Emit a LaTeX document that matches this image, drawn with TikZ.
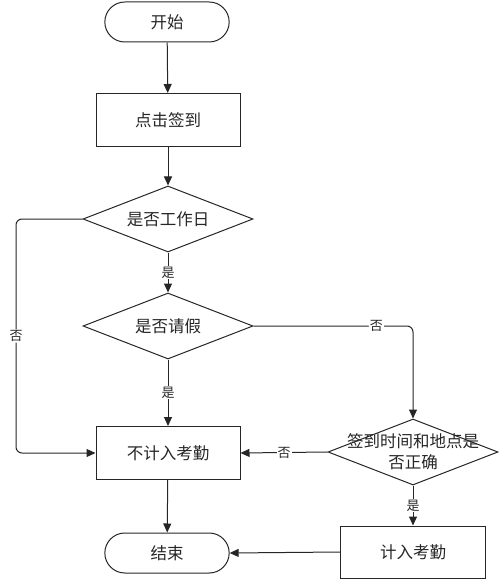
\documentclass[tikz,border=0pt]{standalone}
\usepackage{fontspec}
\setmainfont{Noto Sans CJK SC}
\usetikzlibrary{arrows.meta, shapes.geometric, shapes.misc}

\begin{document}
\begin{tikzpicture}[x=1pt, y=-1pt, line width=1pt, draw=black!85,
    >={Triangle[length=9pt, width=8pt]},
    every node/.style={font=\fontsize{16.5}{21}\selectfont, text=black!85},
    terminal/.style={draw, rounded rectangle, minimum width=131pt, minimum height=40pt},
    process/.style={draw, rectangle, minimum width=144pt, minimum height=53pt},
    decision/.style={draw, diamond, aspect=2.5, inner sep=0pt, minimum width=170pt, minimum height=66pt},
    answer/.style={fill=white, inner sep=1pt, font=\fontsize{13}{14}\selectfont}]
    \useasboundingbox (0,0) rectangle (500,580);

    \node[terminal] (start) at (167,22) {开始};
    \node[process] (sign) at (168,120) {点击签到};
    \node[decision] (workday) at (168,219) {是否工作日};
    \node[decision] (leave) at (168,326) {是否请假};
    \node[process] (noatt) at (168,453) {不计入考勤};
    \node[decision, inner xsep=-35pt, inner ysep=-8pt, align=center] (check) at (413,452) {签到时间和地点是\\否正确};
    \node[process, minimum width=145pt, minimum height=52pt] (att) at (413,552) {计入考勤};
    \node[terminal] (stop) at (167,553) {结束};

    \coordinate (lt) at (16,219);
    \coordinate (lb) at (16,453);
    \coordinate (rt) at (leave.east -| check.north);

    \draw[->] (start) -- (sign);
    \draw[->] (sign) -- (workday);
    \draw[->] (workday) -- node[answer] {是} (leave);
    \draw[->] (leave) -- node[answer] {是} (noatt);
    \draw[->, rounded corners=6pt] (workday.west) -- (lt) -- node[answer] {否} (lb) -- (noatt.west);
    \draw[->, rounded corners=6pt] (leave.east) -- node[answer, pos=0.77] {否} (rt) -- (check.north);
    \draw[->] (check.west) -- node[answer] {否} (noatt.east);
    \draw[->] (check.south) -- node[answer] {是} (att.north);
    \draw[->] (noatt) -- (stop);
    \draw[->] (att.west) -- (stop.east);
\end{tikzpicture}
\end{document}
